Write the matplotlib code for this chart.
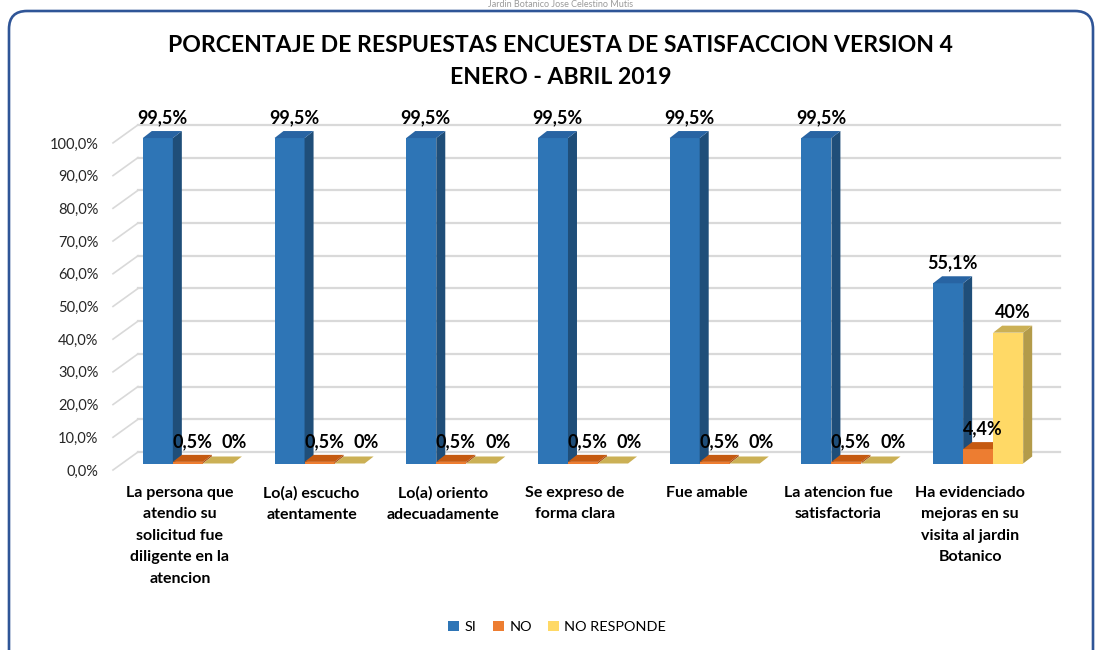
import numpy as np
import matplotlib
matplotlib.use('Agg')
from matplotlib import pyplot as plt
from matplotlib.patches import Polygon, FancyBboxPatch
from matplotlib.transforms import ScaledTranslation, IdentityTransform

# data
categories = ['La persona que\natendio su\nsolicitud fue\ndiligente en la\natencion',
              'Lo(a) escucho\natentamente',
              'Lo(a) oriento\nadecuadamente',
              'Se expreso de\nforma clara',
              'Fue amable',
              'La atencion fue\nsatisfactoria',
              'Ha evidenciado\nmejoras en su\nvisita al jardin\nBotanico']
series_names = ['SI', 'NO', 'NO RESPONDE']
si_vals = [99.5, 99.5, 99.5, 99.5, 99.5, 99.5, 55.1]
no_vals = [0.5, 0.5, 0.5, 0.5, 0.5, 0.5, 4.4]
nr_vals = [0, 0, 0, 0, 0, 0, 40]
y_ticks = [0, 10, 20, 30, 40, 50, 60, 70, 80, 90, 100]

# colors: front, side, top
colors = {'SI': ('#2E75B6', '#1F4E79', '#2864A3'),
          'NO': ('#ED7D31', '#A9501A', '#C55A11'),
          'NO RESPONDE': ('#FFD966', '#B39B4A', '#CBB055')}

plt.rcParams['font.family'] = ['Lato', 'DejaVu Sans']

fig = plt.figure(figsize=(10.97, 6.5), dpi=100)
ax = fig.add_axes([122/1097, (650-463.5)/650, 922/1097, 327.1/650])
ax.set_xlim(-0.5, 6.5)
ax.set_ylim(0, 100)
for s in ax.spines.values():
    s.set_visible(False)

# pixel -> data conversion
p0 = ax.transData.transform((0, 0))
p1 = ax.transData.transform((1, 10))
px_x = p1[0] - p0[0]
px_y = (p1[1] - p0[1]) / 10.0
def ux(px):
    return px / px_x
def uy(px):
    return px / px_y

# back wall gridlines and side wall diagonals
bx, by = ux(16), uy(11.5)
fx, fy = ux(-9), uy(-6.5)
for v in y_ticks:
    ax.plot([-0.5 + bx, 6.5 + bx], [v + by, v + by], color='#D9D9D9', lw=1.6,
            clip_on=False, zorder=1)
    ax.plot([-0.5 + fx, -0.5 + bx], [v + fy, v + by], color='#D9D9D9', lw=1.2,
            clip_on=False, zorder=1)

# 3d bars
w = 0.228
dx, dy = ux(9), uy(7)
x = np.arange(len(categories))
handles = []
for i, (name, vals) in enumerate(zip(series_names, [si_vals, no_vals, nr_vals])):
    front, side, top = colors[name]
    xs = x + (i - 1) * w
    bars = ax.bar(xs, vals, width=w, color=front, zorder=3 + i, clip_on=False,
                  label=name)
    handles.append(bars)
    for xc, v in zip(xs, vals):
        x0, x1 = xc - w / 2, xc + w / 2
        ax.add_patch(Polygon([(x1, 0), (x1 + dx, dy), (x1 + dx, v + dy), (x1, v)],
                             closed=True, facecolor=side, edgecolor='none',
                             zorder=3 + i, clip_on=False))
        ax.add_patch(Polygon([(x0, v), (x0 + dx, v + dy), (x1 + dx, v + dy), (x1, v)],
                             closed=True, facecolor=top, edgecolor='none',
                             zorder=3 + i, clip_on=False))
        if name == 'NO RESPONDE':
            txt = '%d%%' % round(v)
            shift = ux(12) if v == 0 else 0
        else:
            txt = ('%.1f%%' % v).replace('.', ',')
            shift = 0
        ax.text(xc + dx / 2 + shift, v + dy + uy(5), txt, ha='center', va='bottom',
                fontsize=13, fontweight='bold', color='#000000', zorder=10)

# axis labels
ax.set_yticks(y_ticks)
ax.set_yticklabels([('%.1f%%' % v).replace('.', ',') for v in y_ticks],
                   fontsize=10.5, color='#262626')
ax.tick_params(axis='y', length=0, pad=17)
for lbl in ax.get_yticklabels():
    lbl.set_transform(lbl.get_transform() + ScaledTranslation(0, -6.5/100, fig.dpi_scale_trans))

ax.set_xticks(x)
ax.set_xticklabels(categories, fontsize=11.5, fontweight='bold', color='#000000',
                   linespacing=1.68, va='top')
ax.tick_params(axis='x', length=0, pad=16)
for lbl in ax.get_xticklabels():
    lbl.set_transform(lbl.get_transform() + ScaledTranslation(-8/100, 0, fig.dpi_scale_trans))

# title
fig.text(0.511, 1 - 45/650, 'PORCENTAJE DE RESPUESTAS ENCUESTA DE SATISFACCION VERSION 4',
         ha='center', va='center', fontsize=16.6, fontweight='bold')
fig.text(0.511, 1 - 77/650, 'ENERO - ABRIL 2019', ha='center', va='center',
         fontsize=16.6, fontweight='bold')
fig.text(0.511, 1 - 4.5/650, 'Jardin Botanico Jose Celestino Mutis', ha='center',
         va='center', fontsize=6.5, color='#9A9A9A')

# legend
fig.legend(handles=handles, labels=series_names, loc='center', ncol=3,
           bbox_to_anchor=(0.508, 23/650), frameon=False, fontsize=10.4,
           handlelength=0.75, handleheight=0.75, handletextpad=0.4, columnspacing=1.1)

# outer rounded border
fig.add_artist(FancyBboxPatch((9, -40), 1084, 650 - 11 + 40,
                              boxstyle='round,pad=0,rounding_size=18',
                              transform=IdentityTransform(), facecolor='none',
                              edgecolor='#2F5597', lw=1.9))

fig.savefig('out.png', dpi=100)
